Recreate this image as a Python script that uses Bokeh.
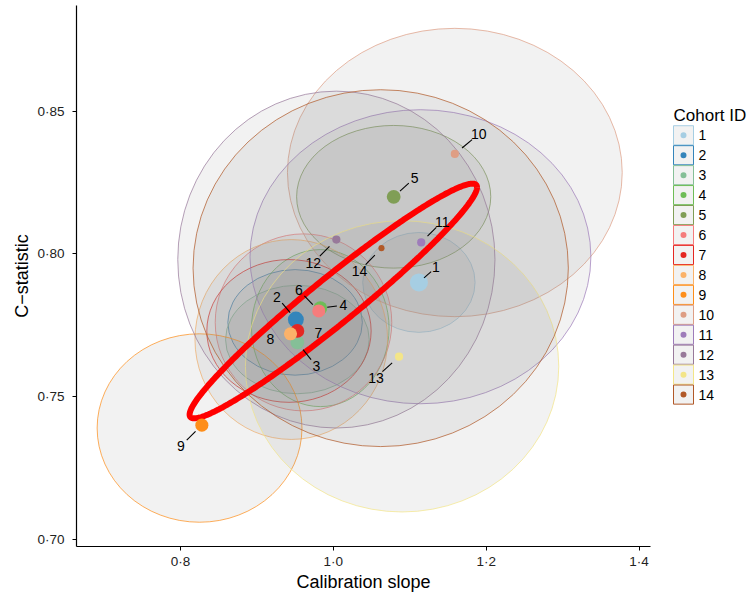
import numpy as np
from bokeh.plotting import figure
from bokeh.layouts import row
from bokeh.models import Range1d, FixedTicker, ColumnDataSource
from bokeh.core.properties import value
from bokeh.embed import file_html
from bokeh.resources import INLINE

# ---------------- data ----------------
cohort_ids = [str(i) for i in range(1, 15)]
calib_slope = [1.112, 0.951, 0.953, 0.983, 1.079, 0.981, 0.953, 0.944, 0.828, 1.159, 1.115, 1.004, 1.086, 1.063]
c_statistic = [0.790, 0.777, 0.769, 0.781, 0.820, 0.780, 0.773, 0.772, 0.740, 0.835, 0.804, 0.805, 0.764, 0.802]
study_weight = [1.0, 0.85, 0.7, 0.7, 0.7, 0.65, 0.7, 0.65, 0.65, 0.3, 0.3, 0.3, 0.3, 0.15]

# 95% regions per cohort (centre, full width in slope, full height in C)
region_x = [1.112, 0.950, 0.953, 0.983, 1.079, 0.961, 0.942, 0.945, 0.825, 1.159, 1.114, 1.004, 1.090, 1.062]
region_y = [0.790, 0.776, 0.770, 0.774, 0.820, 0.776, 0.773, 0.770, 0.739, 0.8285, 0.799, 0.798, 0.7606, 0.795]
region_w = [0.147, 0.176, 0.188, 0.180, 0.254, 0.231, 0.215, 0.252, 0.268, 0.438, 0.446, 0.415, 0.410, 0.491]
region_h = [0.035, 0.037, 0.038, 0.055, 0.050, 0.062, 0.050, 0.070, 0.066, 0.101, 0.103, 0.118, 0.102, 0.125]

# pooled prediction region (mean, half-extents, correlation)
pooled_mean = (1.000, 0.7835)
pooled_half = (0.188, 0.0411)
pooled_corr = 0.968

x_ticks = [0.8, 1.0, 1.2, 1.4]
x_tick_labels = ["0·8", "1·0", "1·2", "1·4"]
y_ticks = [0.70, 0.75, 0.80, 0.85]
y_tick_labels = ["0·70", "0·75", "0·80", "0·85"]

# ---------------- style / layout ----------------
palette = ["#A6CEE3", "#3485BB", "#85BF97", "#6EBD57", "#809E56", "#F57C7C", "#E52722",
           "#FBB269", "#FE8E1A", "#DE9E84", "#9E7CBA", "#98799A", "#F3E588", "#B15928"]
label_offset_px = [(17, -15), (-19, -23), (19, 24), (23, -3), (21, -19), (-20, -21), (21, 2),
                   (-20, 5), (-21, 21), (24, -20), (21, -21), (-23, 23), (-23, 21), (-22, 23)]
show_segment = [True, True, True, True, True, True, False, False, True, True, True, True, True, True]
FONT = "Liberation Sans"

x0, x1 = 0.664, 1.415
y0, y1 = 0.6975, 0.887
W, H = 660, 594
ML, MR, MT, MB = 76, 10, 5, 46
FW, FH = W - ML - MR, H - MT - MB
dxp = (x1 - x0) / FW
dyp = (y1 - y0) / FH

p = figure(width=W, height=H, x_range=Range1d(x0, x1), y_range=Range1d(y0, y1),
           output_backend="svg", toolbar_location=None,
           min_border_left=ML, min_border_right=MR, min_border_top=MT, min_border_bottom=MB)
p.outline_line_color = None
p.xgrid.visible = False
p.ygrid.visible = False

# cohort regions
reg_src = ColumnDataSource(dict(x=region_x, y=region_y, w=region_w, h=region_h, c=palette))
p.ellipse(x="x", y="y", width="w", height="h", source=reg_src, fill_color="#7F7F7F",
          fill_alpha=0.1, line_color="c", line_width=0.8, line_alpha=0.9)

# pooled region
t = np.linspace(0, 2 * np.pi, 400)
ex = pooled_mean[0] + pooled_half[0] * np.cos(t)
ey = pooled_mean[1] + pooled_half[1] * (pooled_corr * np.cos(t) + np.sqrt(1 - pooled_corr ** 2) * np.sin(t))
p.line(ex, ey, line_color="#FF0000", line_width=6)

# points
sizes = [4 + 14 * w for w in study_weight]
pt_src = ColumnDataSource(dict(x=calib_slope, y=c_statistic, s=sizes, c=palette))
p.scatter(x="x", y="y", size="s", source=pt_src, fill_color="c", line_color=None)

# labels and leader lines
lx, ly, sx0, sy0, sx1, sy1 = [], [], [], [], [], []
for xv, yv, (ox, oy), show in zip(calib_slope, c_statistic, label_offset_px, show_segment):
    lx.append(xv + ox * dxp)
    ly.append(yv - oy * dyp)
    if show:
        sx0.append(xv + 0.3 * ox * dxp); sy0.append(yv - 0.3 * oy * dyp)
        sx1.append(xv + 0.72 * ox * dxp); sy1.append(yv - 0.72 * oy * dyp)
p.segment(sx0, sy0, sx1, sy1, line_color="black", line_width=1.1)
p.text(lx, ly, text=cohort_ids, text_align="center", text_baseline="middle",
       text_font=value(FONT), text_font_size="14px", text_color="black")

# axes
for ax in (p.xaxis[0], p.yaxis[0]):
    ax.axis_line_color = "black"
    ax.axis_line_width = 1.2
    ax.major_tick_line_color = "black"
    ax.major_tick_out = 4
    ax.major_tick_in = 0
    ax.minor_tick_line_color = None
    ax.major_label_text_font = FONT
    ax.major_label_text_font_size = "13.5px"
    ax.major_label_text_color = "#222222"
    ax.axis_label_text_font = FONT
    ax.axis_label_text_font_size = "18px"
    ax.axis_label_text_font_style = "normal"
    ax.axis_label_text_color = "black"
p.xaxis.ticker = FixedTicker(ticks=x_ticks)
p.xaxis.major_label_overrides = dict(zip(x_ticks, x_tick_labels))
p.yaxis.ticker = FixedTicker(ticks=y_ticks)
p.yaxis.major_label_overrides = dict(zip(y_ticks, y_tick_labels))
p.xaxis.axis_label = "Calibration slope"
p.yaxis.axis_label = "C\u2212statistic"
p.xaxis.major_label_standoff = 3
p.xaxis.axis_label_standoff = 0
p.yaxis.major_label_standoff = 8
p.yaxis.axis_label_standoff = 2

# legend panel
LW = 753 - W
lg = figure(width=LW, height=H, x_range=Range1d(0, LW), y_range=Range1d(H, 0),
            output_backend="svg", toolbar_location=None, min_border=0,
            x_axis_location=None, y_axis_location=None)
lg.outline_line_color = None
lg.xgrid.visible = False
lg.ygrid.visible = False
n = len(cohort_ids)
step = 21.9
ky = [142.5 + step * i for i in range(n)]
lg.text([13], [121], text=["Cohort ID"], text_align="left", text_baseline="middle",
        text_font=value(FONT), text_font_size="17px", text_color="black")
lg.rect(x=[23] * n, y=ky, width=20, height=21, fill_color="#7F7F7F", fill_alpha=0.1,
        line_color=palette, line_width=1)
lg.scatter(x=[23] * n, y=ky, size=6, fill_color=palette, line_color=None)
lg.text([38] * n, ky, text=cohort_ids, text_align="left", text_baseline="middle",
        text_font=value(FONT), text_font_size="14px", text_color="black")

layout = row(p, lg)
open("out.html", "w").write(file_html(layout, INLINE))
